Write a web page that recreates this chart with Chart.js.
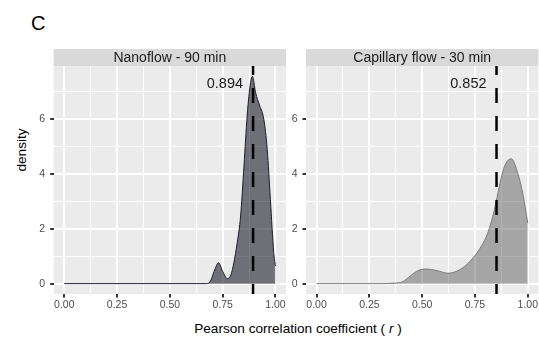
<!DOCTYPE html>
<html><head><meta charset="utf-8">
<script src="https://cdn.jsdelivr.net/npm/chart.js@4.4.0/dist/chart.umd.min.js"></script>
<style>
html,body{margin:0;padding:0;background:#fff;}
body{width:539px;height:354px;position:relative;overflow:hidden;font-family:"Liberation Sans",Arial,sans-serif;}
canvas{position:absolute;top:0;}
#c1{left:0;}
#c2{left:288px;}
.lbl{position:absolute;color:#000;white-space:nowrap;line-height:1;}
</style></head><body>
<div class="lbl" style="left:31px;top:13px;font-size:20px;line-height:20px;">C</div>
<div class="lbl" style="left:22px;top:150px;font-size:13.6px;transform:translate(-50%,-50%) rotate(-90deg);">density</div>
<div class="lbl" style="left:298px;top:329px;font-size:13.6px;transform:translate(-50%,-50%);">Pearson correlation coefficient ( <i>r</i> )</div>
<canvas id="c1" width="290" height="354"></canvas>
<canvas id="c2" width="251" height="354"></canvas>
<script>
// ---- data ----
const panelTitles = ['Nanoflow - 90 min', 'Capillary flow - 30 min'];
const nanoX = [0, 0.60, 0.67, 0.69, 0.71, 0.73, 0.75, 0.772, 0.79, 0.803, 0.819, 0.835, 0.851, 0.866, 0.882, 0.891, 0.906, 0.926, 0.945, 0.961, 0.976, 0.992, 1.0];
const nanoY = [0, 0, 0, 0.06, 0.45, 0.76, 0.45, 0.18, 0.34, 0.76, 1.49, 2.46, 4.28, 6.1, 7.31, 7.54, 6.95, 6.46, 5.98, 4.89, 3.07, 1.13, 0.64];
const capX = [0, 0.30, 0.368, 0.408, 0.439, 0.479, 0.518, 0.573, 0.621, 0.66, 0.70, 0.739, 0.779, 0.81, 0.842, 0.865, 0.889, 0.922, 0.953, 0.976, 1.0];
const capY = [0, 0, 0.02, 0.07, 0.25, 0.47, 0.53, 0.47, 0.38, 0.44, 0.62, 0.92, 1.35, 1.83, 2.68, 3.53, 4.25, 4.54, 4.01, 3.29, 2.2];
const vlineValues = [0.894, 0.852];
const vlineLabels = ['0.894', '0.852'];
const xGridVals = [0, 0.125, 0.25, 0.375, 0.5, 0.625, 0.75, 0.875, 1];
const xMajor = [0, 0.25, 0.5, 0.75, 1];
const xTickLabels = ['0.00', '0.25', '0.50', '0.75', '1.00'];
const yGridVals = [0, 1, 2, 3, 4, 5, 6, 7];
const yMajor = [0, 2, 4, 6];
const yTickLabels = ['0', '2', '4', '6'];

const FONT = '"Liberation Sans", Arial, Helvetica, sans-serif';
Chart.defaults.font.family = FONT;

const facetPlugin = {
  id: 'facet',
  beforeDraw(chart, args, o) {
    const {ctx, chartArea: a} = chart;
    ctx.save();
    ctx.fillStyle = '#EBEBEB';
    ctx.fillRect(a.left, a.top, a.right - a.left, a.bottom - a.top);
    ctx.fillStyle = '#D9D9D9';
    ctx.fillRect(a.left, o.stripTop, a.right - a.left, a.top - o.stripTop);
    ctx.fillStyle = '#1A1A1A';
    ctx.font = '14px ' + FONT;
    ctx.textAlign = 'center';
    ctx.textBaseline = 'middle';
    ctx.fillText(o.title, (a.left + a.right) / 2, (o.stripTop + a.top) / 2 + 0.5);
    ctx.restore();
  },
  afterDatasetsDraw(chart, args, o) {
    const {ctx, chartArea: a, scales: {x, y}} = chart;
    const px = x.getPixelForValue(o.vline);
    ctx.save();
    ctx.beginPath();
    ctx.rect(a.left, a.top, a.right - a.left, a.bottom - a.top);
    ctx.clip();
    ctx.strokeStyle = '#000';
    ctx.lineWidth = 2.5;
    ctx.setLineDash([15, 13]);
    ctx.lineDashOffset = 6;
    ctx.beginPath();
    ctx.moveTo(px, a.top);
    ctx.lineTo(px, a.bottom);
    ctx.stroke();
    ctx.restore();
    ctx.save();
    ctx.fillStyle = '#1A1A1A';
    ctx.font = '14.5px ' + FONT;
    ctx.textAlign = 'right';
    ctx.textBaseline = 'middle';
    ctx.fillText(o.label, px - 10, y.getPixelForValue(7.25));
    ctx.restore();
  }
};

function isIn(arr, v) { return arr.some(m => Math.abs(m - v) < 1e-9); }

function scales(yWidth) {
  return {
    x: {
      type: 'linear', min: -0.05, max: 1.05,
      afterBuildTicks(s) { s.ticks = xGridVals.map(v => ({value: v})); },
      afterFit(s) { s.height = 20; },
      ticks: {
        autoSkip: false, maxRotation: 0, minRotation: 0, padding: 1,
        color: '#4D4D4D', font: {size: 10.5},
        callback: (v) => { const i = xMajor.findIndex(m => Math.abs(m - v) < 1e-9); return i >= 0 ? xTickLabels[i] : ''; }
      },
      grid: {
        color: '#FFFFFF',
        lineWidth: (c) => (c.tick && isIn(xMajor, c.tick.value)) ? 2 : 1,
        tickLength: 3.5, tickWidth: 2,
        tickColor: (c) => (c.tick && isIn(xMajor, c.tick.value)) ? '#333333' : 'rgba(0,0,0,0)'
      },
      border: {display: false}
    },
    y: {
      type: 'linear', min: -0.377, max: 7.917,
      afterBuildTicks(s) { s.ticks = yGridVals.map(v => ({value: v})); },
      afterFit(s) { s.width = yWidth; },
      ticks: {
        autoSkip: false, padding: 5,
        color: '#4D4D4D', font: {size: 10.5},
        callback: (v) => { const i = yMajor.findIndex(m => Math.abs(m - v) < 1e-9); return i >= 0 ? yTickLabels[i] : ''; }
      },
      grid: {
        color: '#FFFFFF',
        lineWidth: (c) => (c.tick && isIn(yMajor, c.tick.value)) ? 2 : 1,
        tickLength: 3.5, tickWidth: 2,
        tickColor: (c) => (c.tick && isIn(yMajor, c.tick.value)) ? '#333333' : 'rgba(0,0,0,0)'
      },
      border: {display: false}
    }
  };
}

function makeChart(id, xs, ys, lineColor, fillColor, idx, yWidth, padRight) {
  return new Chart(document.getElementById(id), {
    type: 'line',
    data: {
      datasets: [{
        data: xs.map((x, i) => ({x: x, y: ys[i]})),
        borderColor: lineColor, borderWidth: 1,
        backgroundColor: fillColor, fill: 'origin',
        pointRadius: 0, cubicInterpolationMode: 'monotone'
      }]
    },
    options: {
      responsive: false, animation: false,
      layout: {padding: {top: 66, right: padRight, bottom: 40, left: 0}},
      scales: scales(yWidth),
      plugins: {
        legend: {display: false}, tooltip: {enabled: false},
        facet: {stripTop: 49, title: panelTitles[idx], vline: vlineValues[idx], label: vlineLabels[idx]}
      }
    },
    plugins: [facetPlugin]
  });
}

makeChart('c1', nanoX, nanoY, '#1e1e2a', 'rgba(18,18,32,0.57)', 0, 53.7, 4);
makeChart('c2', capX, capY, '#7a7a7a', 'rgba(60,60,60,0.4)', 1, 18, 0);
</script>
</body></html>
